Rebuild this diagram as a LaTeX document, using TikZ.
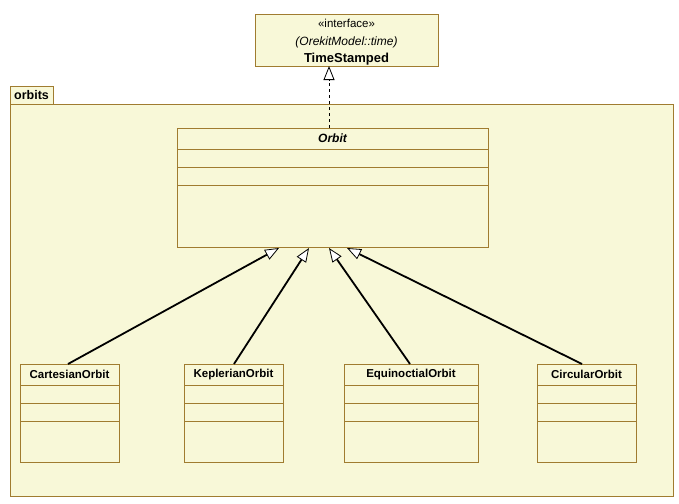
\documentclass[tikz,border=0pt]{standalone}
\usepackage{fontspec}
\setmainfont{Liberation Sans}
\usetikzlibrary{arrows.meta,calc}
\definecolor{umlfill}{RGB}{248,248,216}
\definecolor{umlline}{RGB}{160,124,48}
\tikzset{
  x=1pt, y=-1pt,
  classbox/.style={draw=umlline, fill=umlfill, line width=1pt, inner sep=0pt,
    anchor=north west, rectangle},
  pkgbox/.style={draw=umlline, fill=umlfill, line width=1pt, inner sep=0pt,
    anchor=north west, rectangle},
  sep/.style={draw=umlline, line width=1pt},
  title/.style={font=\fontsize{11.5}{13}\selectfont\bfseries, inner sep=0pt},
  inherit/.style={draw=black, line width=1.8pt,
    -{Triangle[fill=white, length=14pt, width=11pt, line width=0.8pt]}},
  realize/.style={draw=black, line width=0.8pt, dashed,
    -{Triangle[fill=white, length=14pt, width=11pt, line width=0.8pt]}}
}
\begin{document}
\begin{tikzpicture}
\useasboundingbox[fill=white] (0,0) rectangle (679,503);

% package orbits
\node[pkgbox, minimum width=43pt, minimum height=18pt] (tab) at (10,86) {};
\node[font=\fontsize{12.5}{14}\selectfont\bfseries, inner sep=0pt, anchor=west] (tabname) at (14,95) {orbits};
\node[pkgbox, minimum width=663pt, minimum height=392pt] (pkg) at (10,104) {};

% interface TimeStamped
\node[classbox, minimum width=183pt, minimum height=52pt] (ts) at (255,14) {};
\node[font=\fontsize{11.5}{13}\selectfont, inner sep=0pt] (tsst) at (346.5,23) {«interface»};
\node[font=\fontsize{12}{14}\selectfont\itshape, inner sep=0pt] (tsns) at (346.5,42) {(OrekitModel::time)};
\node[font=\fontsize{13}{15}\selectfont\bfseries, inner sep=0pt] (tsname) at (346.5,59) {TimeStamped};

% abstract class Orbit
\node[classbox, minimum width=311pt, minimum height=119pt] (orbit) at (177,128) {};
\node[font=\fontsize{12}{14}\selectfont\bfseries\itshape, inner sep=0pt] (orbitname) at (332.5,138) {Orbit};
\draw[sep] (177,149) -- (488,149);
\draw[sep] (177,167) -- (488,167);
\draw[sep] (177,185) -- (488,185);

% concrete orbit classes
\node[classbox, minimum width=99pt, minimum height=98pt] (cart) at (20,364) {};
\node[classbox, minimum width=99pt, minimum height=98pt] (kep) at (184,364) {};
\node[classbox, minimum width=134pt, minimum height=98pt] (equi) at (344,364) {};
\node[classbox, minimum width=99pt, minimum height=98pt] (circ) at (537,364) {};

\node[title] (cartname) at (69.5,374.5) {CartesianOrbit};
\node[title] (kepname) at (233.5,374.5) {KeplerianOrbit};
\node[title] (equiname) at (411,374.5) {EquinoctialOrbit};
\node[title] (circname) at (586.5,374.5) {CircularOrbit};

\foreach \b in {cart,kep,equi,circ}{
  \draw[sep] ($(\b.north west)+(0,21)$) -- ($(\b.north east)+(0,21)$);
  \draw[sep] ($(\b.north west)+(0,39)$) -- ($(\b.north east)+(0,39)$);
  \draw[sep] ($(\b.north west)+(0,57)$) -- ($(\b.north east)+(0,57)$);
}

% relations
\coordinate (tsin) at (329,66);
\draw[realize] (329,128) -- (tsin);
\draw[inherit] ($(cart.north west)+(48,0)$) -- ($(orbit.south west)+(102,0)$);
\draw[inherit] ($(kep.north west)+(50,0)$) -- ($(orbit.south west)+(132,0)$);
\draw[inherit] ($(equi.north west)+(66,0)$) -- ($(orbit.south west)+(152,0)$);
\draw[inherit] ($(circ.north west)+(45,0)$) -- ($(orbit.south west)+(170,0)$);
\end{tikzpicture}
\end{document}
